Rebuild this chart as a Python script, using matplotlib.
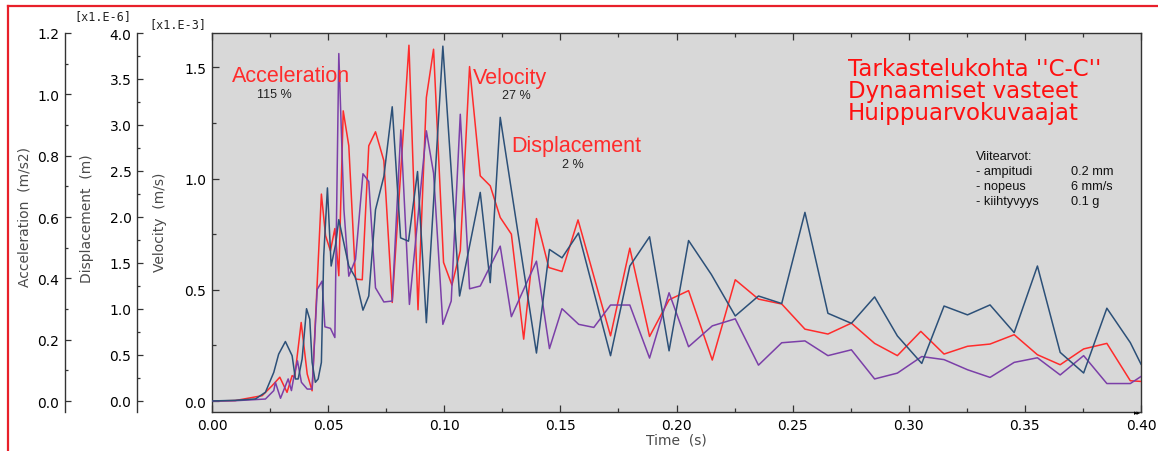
import matplotlib
matplotlib.use("Agg")
import matplotlib.pyplot as plt
from matplotlib.ticker import MultipleLocator, FormatStrFormatter
from matplotlib.lines import Line2D

W, H = 1158, 452

# ---------------- data ----------------
# Displacement  [x1.E-6 m]  (dark blue)
disp_t = [0.0, 0.010, 0.0187, 0.023, 0.0266, 0.0287, 0.0316, 0.0345, 0.0359, 0.0371,
          0.0388, 0.0407, 0.0421, 0.0431, 0.0445, 0.0457, 0.0471, 0.0481, 0.0497, 0.0513,
          0.0532, 0.0546, 0.0589, 0.0618, 0.0650, 0.0675, 0.0704, 0.0740, 0.0776, 0.0812,
          0.0846, 0.0885, 0.0923, 0.0994, 0.1066, 0.1155, 0.1198, 0.1241, 0.1397, 0.1453,
          0.1507, 0.1578, 0.1716, 0.1799, 0.1884, 0.1968, 0.2052, 0.2150, 0.2253, 0.2353,
          0.2453, 0.2553, 0.2652, 0.2753, 0.2853, 0.2951, 0.3056, 0.3152, 0.3253, 0.3350,
          0.3454, 0.3554, 0.3652, 0.3753, 0.3853, 0.3954, 0.4000]
disp_v = [0.0, 0.007, 0.022, 0.094, 0.311, 0.509, 0.646, 0.492, 0.239, 0.239,
          0.456, 1.003, 0.888, 0.420, 0.203, 0.239, 0.420, 1.575, 2.316, 1.467,
          1.700, 1.971, 1.467, 1.339, 0.987, 1.141, 2.079, 2.441, 3.198, 1.773,
          1.737, 2.494, 0.851, 3.857, 1.141, 2.267, 1.286, 3.083, 0.521, 1.647,
          1.556, 1.826, 0.492, 1.467, 1.785, 0.545, 1.744, 1.375, 0.924, 1.141,
          1.059, 2.050, 0.953, 0.844, 1.131, 0.707, 0.408, 1.032, 0.936, 1.044,
          0.743, 1.467, 0.528, 0.304, 1.008, 0.634, 0.400]

# Velocity  [x1.E-3 m/s]  (red)
vel_t = [0.0, 0.010, 0.0216, 0.0259, 0.0292, 0.0323, 0.0345, 0.0356, 0.0384, 0.0410,
         0.0431, 0.0471, 0.0489, 0.0510, 0.0529, 0.0546, 0.0565, 0.0589, 0.0618, 0.0647,
         0.0675, 0.0704, 0.0740, 0.0776, 0.0848, 0.0887, 0.0923, 0.0954, 0.0997, 0.1033,
         0.1069, 0.1109, 0.1155, 0.1198, 0.1241, 0.1289, 0.1342, 0.1397, 0.1450, 0.1507,
         0.1576, 0.1716, 0.1799, 0.1884, 0.1968, 0.2052, 0.2154, 0.2253, 0.2353, 0.2453,
         0.2553, 0.2652, 0.2753, 0.2853, 0.2951, 0.3052, 0.3152, 0.3253, 0.3350, 0.3454,
         0.3554, 0.3652, 0.3753, 0.3853, 0.3954, 0.4000]
vel_v = [0.0, 0.002, 0.024, 0.069, 0.107, 0.039, 0.114, 0.107, 0.353, 0.121,
         0.046, 0.930, 0.743, 0.675, 0.775, 0.563, 1.304, 1.147, 0.548, 0.545,
         1.147, 1.210, 1.080, 0.443, 1.599, 0.410, 1.364, 1.581, 0.623, 0.521,
         0.675, 1.503, 1.012, 0.967, 0.825, 0.750, 0.278, 0.820, 0.600, 0.582,
         0.814, 0.293, 0.687, 0.290, 0.455, 0.496, 0.184, 0.545, 0.458, 0.436,
         0.323, 0.301, 0.350, 0.259, 0.204, 0.313, 0.211, 0.246, 0.256, 0.298,
         0.208, 0.163, 0.234, 0.259, 0.091, 0.088]

# Acceleration  [m/s2]  (purple)
acc_t = [0.0, 0.010, 0.023, 0.0266, 0.0273, 0.0295, 0.0328, 0.0342, 0.0352, 0.0368,
         0.0385, 0.0410, 0.0431, 0.0453, 0.0474, 0.0486, 0.0510, 0.0529, 0.0546, 0.0568,
         0.0589, 0.0618, 0.0650, 0.0675, 0.0704, 0.0740, 0.0776, 0.0813, 0.0850, 0.0923,
         0.0954, 0.0994, 0.1030, 0.1069, 0.1109, 0.1155, 0.1241, 0.1289, 0.1397, 0.1453,
         0.1507, 0.1579, 0.1644, 0.1716, 0.1799, 0.1884, 0.1968, 0.2052, 0.2154, 0.2253,
         0.2353, 0.2453, 0.2553, 0.2652, 0.2753, 0.2853, 0.2951, 0.3056, 0.3152, 0.3253,
         0.3350, 0.3454, 0.3554, 0.3652, 0.3753, 0.3853, 0.3954, 0.4000]
acc_v = [0.0, 0.001, 0.0065, 0.034, 0.061, 0.009, 0.072, 0.034, 0.077, 0.131,
         0.061, 0.039, 0.039, 0.364, 0.391, 0.242, 0.237, 0.207, 1.133, 0.624,
         0.407, 0.462, 0.741, 0.716, 0.369, 0.323, 0.326, 0.884, 0.315, 0.881,
         0.743, 0.250, 0.326, 0.935, 0.366, 0.375, 0.505, 0.275, 0.456, 0.171,
         0.301, 0.250, 0.240, 0.313, 0.313, 0.140, 0.353, 0.177, 0.245, 0.268,
         0.117, 0.190, 0.196, 0.148, 0.167, 0.072, 0.091, 0.145, 0.135, 0.102,
         0.077, 0.126, 0.141, 0.085, 0.148, 0.057, 0.057, 0.080]

ref_labels = ["Viitearvot:", "- ampitudi", "- nopeus", "- kiihtyvyys"]
ref_values = ["0.2 mm", "6 mm/s", "0.1 g"]
title_lines = ["Tarkastelukohta ''C-C''", "Dynaamiset vasteet", "Huippuarvokuvaajat"]

# ---------------- figure ----------------
fig = plt.figure(figsize=(W / 100, H / 100), dpi=100)
fig.patch.set_facecolor("white")

def px(x, y):
    return x / W, 1 - y / H

x0, x1, ytop, ybot = 212, 1141, 34, 413
ax = fig.add_axes([x0 / W, 1 - ybot / H, (x1 - x0) / W, (ybot - ytop) / H])
ax.set_facecolor("#d8d8d8")

spine_col = "#333333"
for s in ax.spines.values():
    s.set_color(spine_col)
    s.set_linewidth(1.0)

BLUE, RED, PURPLE = "#2c5078", "#ff2b2b", "#7b3fa8"

ax.plot(vel_t, vel_v, color=RED, lw=1.1, zorder=3)
ax.set_xlim(0, 0.4)
ax.set_ylim(-0.0494, 1.654)
ax.xaxis.set_major_locator(MultipleLocator(0.05))
ax.xaxis.set_minor_locator(MultipleLocator(0.025))
ax.yaxis.set_major_locator(MultipleLocator(0.5))
ax.yaxis.set_minor_locator(MultipleLocator(0.25))
ax.xaxis.set_major_formatter(FormatStrFormatter("%.2f"))
ax.yaxis.set_major_formatter(FormatStrFormatter("%.1f"))
ax.tick_params(which="both", direction="in", top=True, right=True, color=spine_col,
               labelsize=10, labelcolor="black")
ax.tick_params(which="major", length=5, width=0.9, pad=4)
ax.tick_params(which="minor", length=3, width=0.9)

def side_axis(pos_px, ylim, major, minor, data_t, data_v, color):
    a = ax.twinx()
    a.set_ylim(*ylim)
    for k in ("right", "top", "bottom"):
        a.spines[k].set_visible(False)
    a.spines["left"].set_visible(True)
    a.spines["left"].set_position(("axes", (pos_px - x0) / (x1 - x0)))
    a.spines["left"].set_color(spine_col)
    a.spines["left"].set_linewidth(1.0)
    a.yaxis.set_ticks_position("left")
    a.yaxis.set_label_position("left")
    a.yaxis.set_major_locator(MultipleLocator(major))
    a.yaxis.set_minor_locator(MultipleLocator(minor))
    a.yaxis.set_major_formatter(FormatStrFormatter("%.1f"))
    a.tick_params(which="both", direction="in", color=spine_col, labelsize=10)
    a.tick_params(which="major", length=4, width=0.9, pad=4)
    a.tick_params(which="minor", length=2.5, width=0.9)
    a.plot(data_t, data_v, color=color, lw=1.1, zorder=3)
    a.set_xlim(0, 0.4)
    return a

ax_acc = side_axis(65, (-0.0358, 1.2), 0.2, 0.1, acc_t, acc_v, PURPLE)
ax_disp = side_axis(137, (-0.12, 4.0), 0.5, 0.25, disp_t, disp_v, BLUE)

# axis labels
lab_col = "#4a4a4a"
fig.text(*px(25, 217), "Acceleration  (m/s2)", rotation=90, ha="center", va="center",
         fontsize=10, color=lab_col)
fig.text(*px(87, 219), "Displacement  (m)", rotation=90, ha="center", va="center",
         fontsize=10, color=lab_col)
fig.text(*px(160, 222), "Velocity  (m/s)", rotation=90, ha="center", va="center",
         fontsize=10, color=lab_col)
fig.text(*px(676, 441), "Time  (s)", ha="center", va="center", fontsize=10, color=lab_col)
fig.text(*px(103, 17), "[x1.E-6]", ha="center", va="center", fontsize=8.5,
         family="DejaVu Sans Mono", color="#222222")
fig.text(*px(178, 25), "[x1.E-3]", ha="center", va="center", fontsize=8.5,
         family="DejaVu Sans Mono", color="#222222")
fig.text(*px(1141, 413), "▸▸", ha="right", va="center", fontsize=5, color="black")

# annotations
ann_font = "Liberation Sans"
fig.text(*px(232, 82), "Acceleration", fontsize=15.5, color=RED, family=ann_font, va="baseline")
fig.text(*px(257, 98), "115 %", fontsize=9, color="#222222", family=ann_font, va="baseline")
fig.text(*px(473, 84), "Velocity", fontsize=15.5, color=RED, family=ann_font, va="baseline")
fig.text(*px(502, 99), "27 %", fontsize=9, color="#222222", family=ann_font, va="baseline")
fig.text(*px(511, 152), "Displacement", fontsize=15.5, color=RED, family=ann_font, va="baseline")
fig.text(*px(562, 168), "2 %", fontsize=9, color="#222222", family=ann_font, va="baseline")

for i, line in enumerate(title_lines):
    fig.text(*px(848, 76 + 22 * i), line, fontsize=16.5, color="#ff1010", va="baseline")

for i, line in enumerate(ref_labels):
    fig.text(*px(976, 160 + 15 * i), line, fontsize=9.2, color="#111111",
             family=ann_font, va="baseline")
for i, line in enumerate(ref_values):
    fig.text(*px(1071, 175 + 15 * i), line, fontsize=9.2, color="#111111",
             family=ann_font, va="baseline")

# red frame
frame_col = "#e8202a"
fig.add_artist(Line2D([8 / W, 1.0], [1 - 7 / H, 1 - 7 / H], color=frame_col, lw=1.6,
                      transform=fig.transFigure))
fig.add_artist(Line2D([8 / W, 8 / W], [1 - 7 / H, 0.0], color=frame_col, lw=1.6,
                      transform=fig.transFigure))

fig.savefig("out.png", dpi=100, facecolor="white")
